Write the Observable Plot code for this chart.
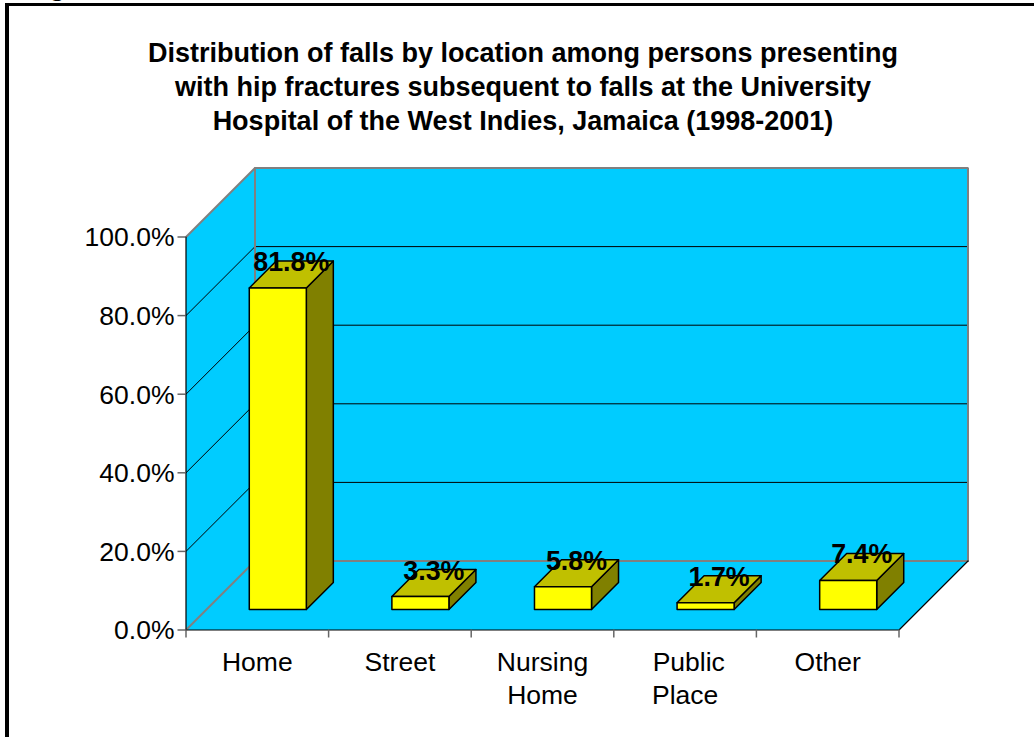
<!DOCTYPE html>
<html>
<head>
<meta charset="utf-8">
<script src="https://cdn.jsdelivr.net/npm/d3@7"></script>
<script src="https://cdn.jsdelivr.net/npm/@observablehq/plot@0.6"></script>
<style>
html,body{margin:0;padding:0;background:#fff;width:1034px;height:737px;overflow:hidden}
#frame{position:absolute;left:5px;top:3px;width:1040px;height:740px;border-left:4px solid #000;border-top:3px solid #000;box-sizing:border-box}
#fig{position:absolute;left:0;top:-27px;margin:0;font:27px "Liberation Serif",serif;color:#000;line-height:27px;white-space:nowrap;padding-left:28px}
#title{position:absolute;left:0;width:1046px;top:36px;margin:0;text-align:center;font:bold 27px/34px "Liberation Sans",Arial,sans-serif;color:#000}
#chart{position:absolute;left:0;top:0}
#chart svg{overflow:visible;background:transparent}
</style>
</head>
<body>
<div id="fig">Fig</div>
<div id="frame"></div>
<h1 id="title">Distribution of falls by location among persons presenting<br>with hip fractures subsequent to falls at the University<br>Hospital of the West Indies, Jamaica (1998-2001)</h1>
<div id="chart"></div>
<script>
const categories = ["Home", "Street", "Nursing\nHome", "\u00a0Public\nPlace", "Other"];
const percents = [81.8, 3.3, 5.8, 1.7, 7.4];
const valueLabels = ["81.8%", "3.3%", "5.8%", "1.7%", "7.4%"];
const yTicks = [0, 20, 40, 60, 80, 100];

// Oblique 3D: depth 0 = front of the floor, depth 1 = back wall, in scale units
const depthX = 69 / 142.6, depthY = 69 / 3.93;
const at = (c, v, d) => ({x: c + d * depthX, y: v + d * depthY});
const n = categories.length;
const shape = (id, pts) => pts.map(([c, v, d]) => ({id, ...at(c, v, d)}));

const walls = [
  ...shape("back", [[0, 0, 1], [n, 0, 1], [n, 100, 1], [0, 100, 1]]),
  ...shape("side", [[0, 0, 0], [0, 0, 1], [0, 100, 1], [0, 100, 0]]),
  ...shape("floor", [[0, 0, 0], [n, 0, 0], [n, 0, 1], [0, 0, 1]])
];
const grid = yTicks.slice(1, -1).flatMap(v =>
  shape("g" + v, [[0, v, 0], [0, v, 1], [n, v, 1]]));
const greyEdges = [
  ...shape("top", [[0, 100, 0], [0, 100, 1], [n, 100, 1], [n, 0, 1]]),
  ...shape("base", [[0, 0, 0], [0, 0, 1], [n, 0, 1]]),
  ...shape("corner", [[0, 0, 1], [0, 100, 1]])
];
const blackEdges = [
  ...shape("left", [[0, 100, 0], [0, 0, 0], [n, 0, 0], [n, 0, 1]])
];

// Bars sit between these depths and occupy the middle of each category
const d0 = 20.5 / 69, d1 = 47.5 / 69, gap = 0.3;
const face = (kind, pts) => percents.flatMap((v, i) =>
  shape(kind + i, pts(i + gap, i + 1 - gap, v)));
const fronts = face("front", (a, b, v) => [[a, 0, d0], [b, 0, d0], [b, v, d0], [a, v, d0]]);
const tops = face("top", (a, b, v) => [[a, v, d0], [b, v, d0], [b, v, d1], [a, v, d1]]);
const sides = face("side", (a, b, v) => [[b, 0, d0], [b, 0, d1], [b, v, d1], [b, v, d0]]);
const labelPoints = percents.map((v, i) => ({...at(i + 0.5, v, (d0 + d1) / 2), label: valueLabels[i]}));

const polygon = (data, fill, stroke, strokeWidth) => Plot.line(data, {
  x: "x", y: "y", z: "id", fill, stroke, strokeWidth, curve: "linear-closed"
});
const path = (data, stroke, strokeWidth) => Plot.line(data, {
  x: "x", y: "y", z: "id", stroke, strokeWidth, curve: "linear", strokeLinejoin: "miter"
});

const chart = Plot.plot({
  width: 1034, height: 737,
  marginLeft: 185.5, marginRight: 135.5, marginTop: 236.5, marginBottom: 107.5,
  x: {type: "linear", domain: [0, n]},
  y: {type: "linear", domain: [0, 100]},
  style: {fontFamily: '"Liberation Sans", Arial, sans-serif', color: "#000", background: "transparent"},
  marks: [
    polygon(walls, "#00ccff", "none", 0),
    path(grid, "#000", 1),
    path(greyEdges, "#808080", 2),
    path(blackEdges, "#000", 1.2),
    polygon(sides, "#808000", "#000", 1.5),
    polygon(tops, "#c0c000", "#000", 1.5),
    polygon(fronts, "#ffff00", "#000", 1.5),
    Plot.axisY({ticks: yTicks, tickSize: 8, stroke: "#666", strokeWidth: 1.5,
      tickFormat: () => "", label: null}),
    Plot.axisY({ticks: yTicks, tickSize: 0, tickPadding: 11.5, dy: 1,
      fontSize: 26.5, label: null, tickFormat: d => d.toFixed(1) + "%"}),
    Plot.axisX({ticks: d3.range(n + 1), tickSize: 8, stroke: "#666", strokeWidth: 1.5,
      tickFormat: () => "", label: null}),
    Plot.axisX({ticks: categories.map((c, i) => i + 0.5), tickSize: 0, tickPadding: 17,
      fontSize: 26.5, lineHeight: 1.25, label: null, lineAnchor: "top",
      tickFormat: d => categories[Math.floor(d)]}),
    Plot.text(labelPoints, {x: "x", y: "y", text: "label", dy: -12, fontSize: 26.8,
      fontWeight: "bold", fill: "#000"})
  ]
});
document.getElementById("chart").append(chart);
</script>
</body>
</html>
